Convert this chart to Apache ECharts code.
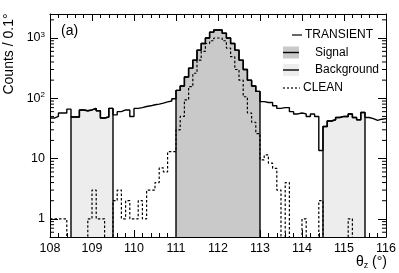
<!DOCTYPE html>
<html><head><meta charset="utf-8">
<script src="https://cdn.jsdelivr.net/npm/echarts@6/dist/echarts.min.js"></script>
<style>html,body{margin:0;padding:0;background:#fff}#c{width:399px;height:273px}</style>
</head><body><div id="c"></div>
<script>
// ---- data ----
const binStart = 108, binWidth = 0.1, binCount = 80;
const transient = [
  47, 50, 57, 57, 66,
  49, 49, 64, 62, 64, 68, 62, 47, 49, 68,
  53, 60, 64, 64, 50, 68, 70, 73, 75, 78, 80, 83, 87, 90, 98,
  135, 160, 225, 316, 430, 630, 810, 1000, 1250, 1360, 1360, 1200, 1000, 810, 630, 430, 300, 200, 160, 130,
  88, 85, 85, 75, 68, 70, 70, 60, 55, 57, 55, 50, 55, 50, 13.6,
  34, 42, 44, 48, 50, 50, 55, 48, 44, 58, 48, 46, 43, 45, 46
];
const clean = [
  1, 1, 1, 1, 0,
  0, 0, 0, 0, 1, 3, 1, 1, 0, 0,
  2, 3, 1, 2, 1, 1, 2, 1, 3, 3, 4, 7, 6, 13, 13,
  30, 50, 94, 156, 260, 430, 600, 810, 900, 1000, 1000, 900, 680, 490, 300, 200, 106, 57, 40, 26,
  9.5, 11.5, 8.4, 6.9, 3, 0, 4, 0, 0, 0, 1, 0, 0, 0, 2,
  0, 0, 0, 0, 0, 0, 1, 0, 0, 0, 0, 0, 0, 0, 0
];
const signalRange = [111, 113];
const backgroundRanges = [[108.5, 109.5], [114.5, 115.5]];
const xMin = 108, xMax = 116, xInterval = 1;
const yMin = 0.5, yMax = 2500;
const yMajorLabels = {1: '1', 10: '10', 100: '10{sup|2}', 1000: '10{sup|3}'};
const yMinorTicks = [0.6,0.7,0.8,0.9, 2,3,4,5,6,7,8,9, 20,30,40,50,60,70,80,90, 200,300,400,500,600,700,800,900, 2000];
const legendNames = ['TRANSIENT', 'Signal', 'Background', 'CLEAN'];

// ---- helpers ----
const FLOOR = 0.01; // zero-count bins drawn below the frame (log axis)
function edge(i) { return +(binStart + i * binWidth).toFixed(2); }
function v(x) { return x > 0 ? x : FLOOR; }
function stepData(vals, a, b) {
  const d = [];
  for (let i = a; i < b; i++) d.push([edge(i), v(vals[i])]);
  d.push([edge(b), v(vals[b - 1])]);
  return d;
}
function regionData(vals, lo, hi) {
  const a = Math.round((lo - binStart) / binWidth), b = Math.round((hi - binStart) / binWidth);
  return [[edge(a), FLOOR]].concat(stepData(vals, a, b), [[edge(b), FLOOR]]);
}

const FONT = 'Liberation Sans, Arial, Helvetica, sans-serif';
const chart = echarts.init(document.getElementById('c'), null, {renderer: 'canvas'});

const baseLine = {type: 'line', step: 'end', symbol: 'none', showSymbol: false, silent: true, animation: false};

const series = [];
backgroundRanges.forEach(r => series.push(Object.assign({}, baseLine, {
  name: 'Background', data: regionData(transient, r[0], r[1]),
  lineStyle: {color: '#000', width: 1.4},
  areaStyle: {color: '#ededed', opacity: 1, origin: 'start'}, z: 2
})));
series.push(Object.assign({}, baseLine, {
  name: 'Signal', data: regionData(transient, signalRange[0], signalRange[1]),
  lineStyle: {color: '#000', width: 1.4},
  areaStyle: {color: '#c9c9c9', opacity: 1, origin: 'start'}, z: 2
}));
series.push(Object.assign({}, baseLine, {
  name: 'TRANSIENT', data: stepData(transient, 0, binCount),
  lineStyle: {color: '#000', width: 1.4}, z: 4
}));
series.push(Object.assign({}, baseLine, {
  name: 'CLEAN', data: stepData(clean, 0, binCount),
  lineStyle: {color: '#000', width: 1.2, type: [2.5, 2]}, z: 5
}));
series.push({
  type: 'custom', name: 'yMinorTicks', silent: true, animation: false, z: 6,
  data: yMinorTicks.map(t => [xMin, t]),
  renderItem: function (params, api) {
    const t = api.value(1);
    const pl = api.coord([xMin, t]), pr = api.coord([xMax, t]);
    const st = {stroke: '#000', lineWidth: 1};
    return {type: 'group', children: [
      {type: 'line', shape: {x1: pl[0], y1: pl[1], x2: pl[0] + 4, y2: pl[1]}, style: st},
      {type: 'line', shape: {x1: pr[0], y1: pr[1], x2: pr[0] - 4, y2: pr[1]}, style: st}
    ]};
  }
});

const xAxisCommon = {
  type: 'value', min: xMin, max: xMax, interval: xInterval,
  axisLine: {show: true, onZero: false, lineStyle: {color: '#000', width: 1}},
  axisTick: {show: true, inside: true, length: 7, lineStyle: {color: '#000'}},
  minorTick: {show: true, splitNumber: 5, length: 4, lineStyle: {color: '#000'}},
  splitLine: {show: false}
};
const yAxisCommon = {
  type: 'log', logBase: 10, min: yMin, max: yMax,
  axisLine: {show: true, onZero: false, lineStyle: {color: '#000', width: 1}},
  axisTick: {show: true, inside: true, length: 8, lineStyle: {color: '#000'}},
  splitLine: {show: false}
};

const legendY = [35, 52.5, 70, 88];
const graphics = [
  {type: 'text', x: 9, y: 54, rotation: Math.PI / 2,
    style: {text: 'Counts / 0.1°', font: '14px ' + FONT, fill: '#000', align: 'center', verticalAlign: 'middle'}},
  {type: 'text', x: 387, y: 262,
    style: {text: 'θ{sub|z} (°)', font: '14px ' + FONT, fill: '#000', align: 'right', verticalAlign: 'middle',
      rich: {sub: {fontSize: 9, fontFamily: FONT, padding: [7, 0, 0, 0]}}}},
  {type: 'text', x: 61, y: 31,
    style: {text: '(a)', font: '14px ' + FONT, fill: '#000', align: 'left', verticalAlign: 'middle'}},
  // legend
  {type: 'line', shape: {x1: 292, y1: legendY[0], x2: 302, y2: legendY[0]}, style: {stroke: '#000', lineWidth: 1.2}},
  {type: 'text', x: 305, y: legendY[0], style: {text: legendNames[0], font: '12px ' + FONT, fill: '#000', verticalAlign: 'middle'}},
  {type: 'rect', shape: {x: 283, y: legendY[1] - 6, width: 16, height: 12}, style: {fill: '#c9c9c9'}},
  {type: 'line', shape: {x1: 283, y1: legendY[1], x2: 299, y2: legendY[1]}, style: {stroke: '#000', lineWidth: 1.4}},
  {type: 'text', x: 315, y: legendY[1], style: {text: legendNames[1], font: '12px ' + FONT, fill: '#000', verticalAlign: 'middle'}},
  {type: 'rect', shape: {x: 283, y: legendY[2] - 6, width: 16, height: 12}, style: {fill: '#ededed'}},
  {type: 'line', shape: {x1: 283, y1: legendY[2], x2: 299, y2: legendY[2]}, style: {stroke: '#000', lineWidth: 1.4}},
  {type: 'text', x: 315, y: legendY[2], style: {text: legendNames[2], font: '12px ' + FONT, fill: '#000', verticalAlign: 'middle'}},
  {type: 'line', shape: {x1: 283, y1: legendY[3], x2: 300, y2: legendY[3]}, style: {stroke: '#000', lineWidth: 1.2, lineDash: [2, 2]}},
  {type: 'text', x: 303, y: legendY[3], style: {text: legendNames[3], font: '12px ' + FONT, fill: '#000', verticalAlign: 'middle'}}
];

chart.setOption({
  animation: false,
  backgroundColor: '#fff',
  grid: {left: 50, right: 13, top: 14, bottom: 36, containLabel: false},
  xAxis: [
    Object.assign({}, xAxisCommon, {position: 'bottom',
      axisLabel: {show: true, color: '#000', fontSize: 12.5, fontFamily: FONT, margin: 5}}),
    Object.assign({}, xAxisCommon, {position: 'top', axisLabel: {show: false}})
  ],
  yAxis: [
    Object.assign({}, yAxisCommon, {position: 'left',
      axisLabel: {show: true, color: '#000', fontSize: 12.5, fontFamily: FONT, margin: 5,
        formatter: function (val) {
          const k = Math.round(val);
          return (Math.abs(val - k) < 1e-6 && yMajorLabels[k]) ? yMajorLabels[k] : '';
        },
        rich: {sup: {fontSize: 8, fontFamily: FONT, color: '#000', padding: [0, 0, 7, 0]}}}}),
    Object.assign({}, yAxisCommon, {position: 'right', axisLabel: {show: false}})
  ],
  series: series,
  graphic: graphics
});
</script></body></html>
